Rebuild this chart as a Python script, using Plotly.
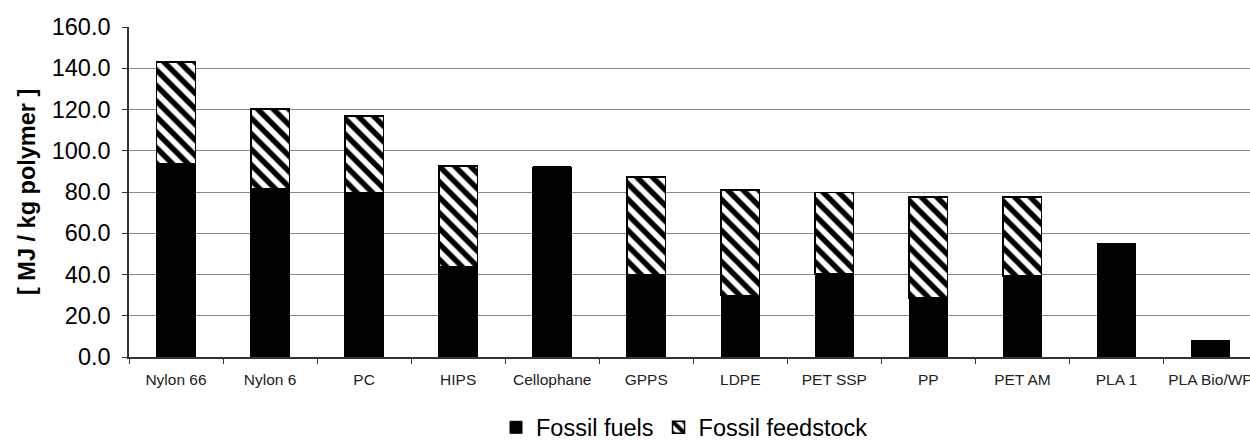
import plotly.graph_objects as go

categories = ["Nylon 66", "Nylon 6", "PC", "HIPS", "Cellophane", "GPPS", "LDPE",
              "PET SSP", "PP", "PET AM", "PLA 1", "PLA Bio/WP"]
fossil_fuels = [93.9, 81.4, 79.6, 43.7, 92.1, 39.8, 29.8, 40.2, 28.7, 39.2, 54.9, 7.8]
fossil_feedstock = [49.1, 38.8, 37.2, 49.0, 0.0, 47.5, 51.1, 39.5, 48.9, 38.4, 0.0, 0.0]
y_ticks = [0, 20, 40, 60, 80, 100, 120, 140, 160]

FONT = "Liberation Sans, Arial, sans-serif"

fig = go.Figure()
fig.add_trace(go.Bar(
    x=categories, y=fossil_fuels, name="Fossil fuels",
    marker=dict(color="black", line=dict(color="black", width=1)),
    width=0.41,
))
fig.add_trace(go.Bar(
    x=categories, y=fossil_feedstock, name="Fossil feedstock",
    marker=dict(color="white", line=dict(color="black", width=1.5),
                pattern=dict(shape="\\", fgcolor="black", bgcolor="white",
                             fgopacity=1, size=11, solidity=0.5)),
    width=0.41,
))

fig.update_layout(
    barmode="stack",
    width=1250, height=441,
    margin=dict(l=129, r=0, t=27, b=84, autoexpand=False),
    paper_bgcolor="white", plot_bgcolor="white",
    font=dict(family=FONT, color="black"),
    showlegend=True,
    legend=dict(orientation="h", x=0.5 - 5 / 1121, xanchor="center",
                yref="container", y=1 - 427.5 / 441, yanchor="middle",
                font=dict(size=23.5, family=FONT, color="black"),
                itemwidth=30, traceorder="normal", tracegroupgap=0),
    xaxis=dict(
        range=[-0.5, 11.42],
        automargin=False,
        showgrid=False,
        showline=True, linecolor="#333", linewidth=1.5,
        ticks="outside", tickson="boundaries", ticklen=5, tickcolor="#333",
        ticklabelstandoff=8,
        tickfont=dict(size=15.5, family=FONT, color="#222"),
        fixedrange=True,
    ),
    yaxis=dict(
        range=[0, 160],
        automargin=False,
        tickvals=y_ticks, tickformat=".1f",
        showgrid=True, gridcolor="#888", gridwidth=1.2,
        showline=True, linecolor="#333", linewidth=1.5,
        ticks="outside", ticklen=5, tickcolor="#333",
        ticklabelstandoff=7,
        tickfont=dict(size=23.5, family=FONT, color="black"),
        zeroline=False,
    ),
    annotations=[dict(
        text="<b>[ MJ / kg polymer ]</b>", textangle=-90,
        xref="paper", yref="paper", x=-0.091, y=0.5,
        xanchor="center", yanchor="middle", showarrow=False,
        font=dict(size=23.5, family=FONT, color="black"),
    )],
)

fig.write_html("out.html",
               config={"displayModeBar": False},
               post_script="document.body.style.margin='0';document.body.style.overflow='hidden';")
